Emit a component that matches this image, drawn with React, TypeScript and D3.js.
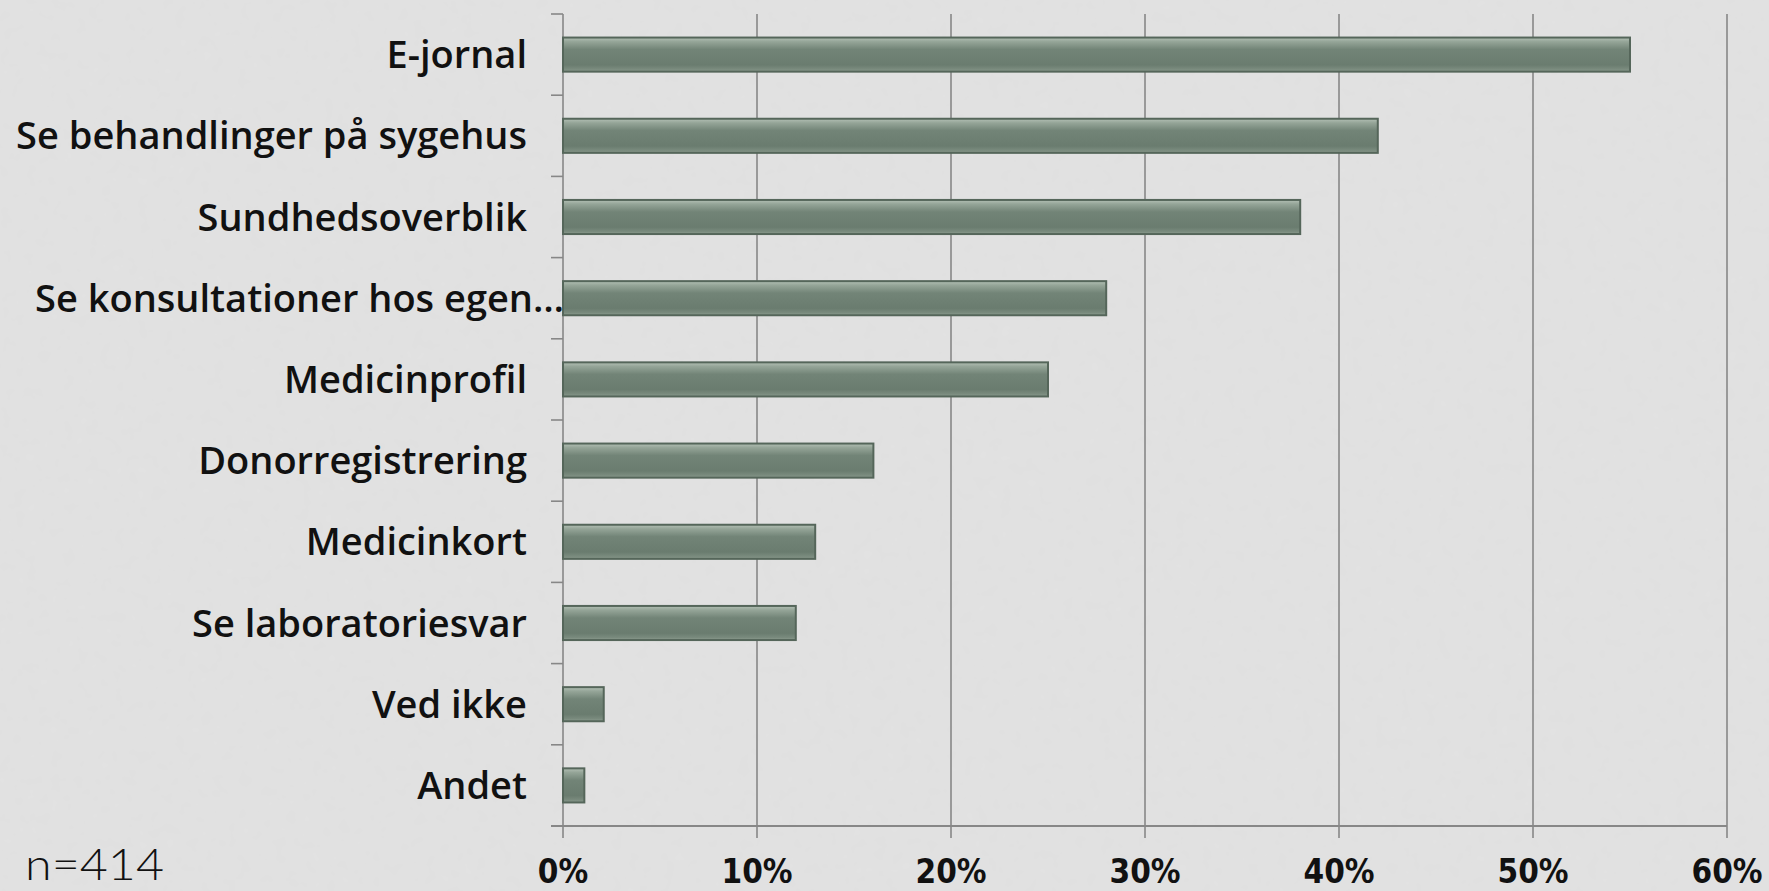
import React from "react";
import * as d3 from "d3";

const categories = [
  "E-jornal",
  "Se behandlinger på sygehus",
  "Sundhedsoverblik",
  "Se konsultationer hos egen…",
  "Medicinprofil",
  "Donorregistrering",
  "Medicinkort",
  "Se laboratoriesvar",
  "Ved ikke",
  "Andet",
];
const values = [55, 42, 38, 28, 25, 16, 13, 12, 2.1, 1.1];
const xTicks = [0, 10, 20, 30, 40, 50, 60];
const note = "n=414";

const W = 1769;
const H = 891;
const M = { left: 563, right: 42, top: 14, bottom: 65 };

export default function App() {
  const x = d3.scaleLinear().domain([0, 60]).range([M.left, W - M.right]);
  const y = d3
    .scaleBand<string>()
    .domain(categories)
    .range([M.top, H - M.bottom])
    .paddingInner(0.58)
    .paddingOuter(0.29);
  const step = y.step();
  const axisColor = "#878787";
  const yBottom = H - M.bottom;

  return (
    <svg
      width={W}
      height={H}
      style={{ position: "fixed", left: 0, top: 0, display: "block" }}
    >
      <defs>
        <linearGradient id="barGrad" x1="0" y1="0" x2="0" y2="1">
          <stop offset="0%" stopColor="#b3c0b5" />
          <stop offset="12%" stopColor="#95a598" />
          <stop offset="35%" stopColor="#728477" />
          <stop offset="80%" stopColor="#6a7c6f" />
          <stop offset="93%" stopColor="#7a8b7e" />
          <stop offset="100%" stopColor="#8e9d91" />
        </linearGradient>
        <filter id="noise" x="0" y="0" width="100%" height="100%">
          <feTurbulence type="fractalNoise" baseFrequency="0.08" numOctaves="2" seed="3" />
          <feColorMatrix type="matrix" values="0 0 0 0 0.5  0 0 0 0 0.5  0 0 0 0 0.5  0 0 0 0.06 0" />
        </filter>
      </defs>
      <rect x={0} y={0} width={W} height={H} fill="#e2e2e2" />
      <rect x={0} y={0} width={W} height={H} filter="url(#noise)" />

      {/* gridlines */}
      {xTicks.map((t) => (
        <line
          key={"g" + t}
          x1={x(t)}
          x2={x(t)}
          y1={M.top}
          y2={yBottom + 12}
          stroke={axisColor}
          strokeWidth={1.6}
        />
      ))}

      {/* y axis ticks */}
      {d3.range(categories.length + 1).map((i) => (
        <line
          key={"yt" + i}
          x1={M.left - 12}
          x2={M.left}
          y1={M.top + i * step}
          y2={M.top + i * step}
          stroke={axisColor}
          strokeWidth={1.6}
        />
      ))}
      {/* bottom axis */}
      <line
        x1={M.left - 12}
        x2={x(60)}
        y1={yBottom}
        y2={yBottom}
        stroke={axisColor}
        strokeWidth={2}
      />

      {/* bars */}
      {categories.map((c, i) => (
        <rect
          key={c}
          x={x(0)}
          y={y(c)!}
          width={x(values[i]) - x(0)}
          height={y.bandwidth()}
          fill="url(#barGrad)"
          stroke="#55665a"
          strokeWidth={2}
        />
      ))}

      {/* category labels */}
      {categories.map((c) => {
        const ell = c.endsWith("…");
        return (
          <text
            key={"l" + c}
            x={ell ? 564 : 527}
            y={y(c)! + y.bandwidth() / 2}
            dy="0.36em"
            textAnchor="end"
            fontFamily="'Open Sans', sans-serif"
            fontWeight={600}
            fontSize={38}
            fill="#111"
          >
            {c}
          </text>
        );
      })}

      {/* x tick labels */}
      {xTicks.map((t) => (
        <text
          key={"xl" + t}
          x={x(t)}
          y={883}
          textAnchor="middle"
          fontFamily="'DejaVu Sans Condensed', 'DejaVu Sans', sans-serif"
          fontStretch="condensed"
          fontWeight={700}
          fontSize={33}
          fill="#111"
        >
          {t + "%"}
        </text>
      ))}

      <text
        x={25}
        y={880}
        fontFamily="Lato, sans-serif"
        fontWeight={300}
        fontSize={44}
        textLength={139}
        lengthAdjust="spacingAndGlyphs"
        fill="#111"
      >
        {note}
      </text>
    </svg>
  );
}
